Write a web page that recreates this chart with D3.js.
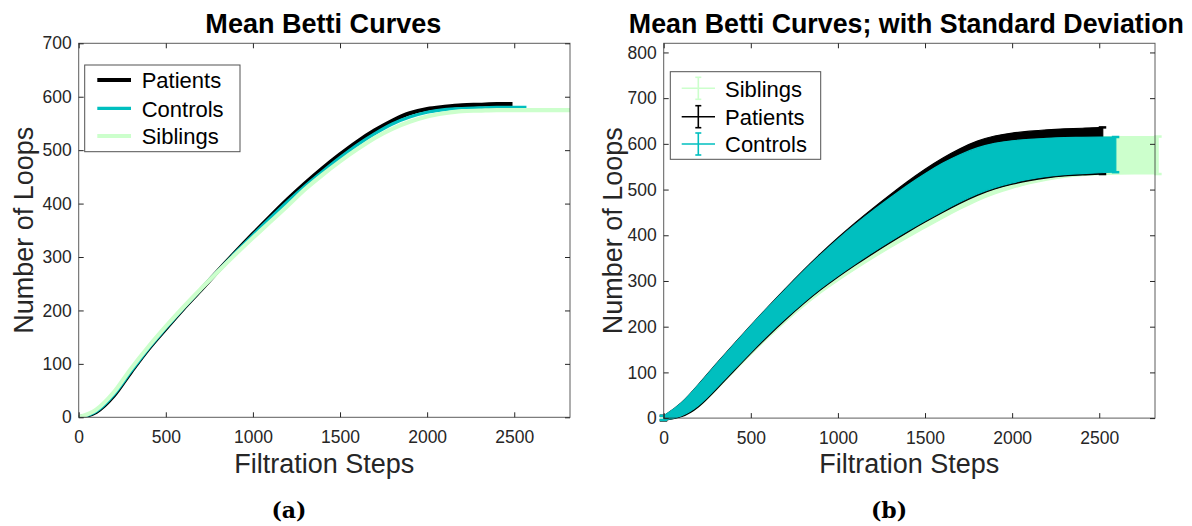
<!DOCTYPE html>
<html><head><meta charset="utf-8">
<script src="https://cdn.jsdelivr.net/npm/d3@7"></script>
<style>
html,body{margin:0;padding:0;background:#fff;}
svg{display:block;font-family:"Liberation Sans",Arial,Helvetica,sans-serif;}
</style></head>
<body>
<svg id="chart" width="1192" height="526"></svg>
<script>
// ---------- DATA ----------
// Panel (a): mean Betti curves
const stepsP = [0,100,200,300,400,500,600,700,800,900,1000,1100,1200,1300,1400,1500,1600,1700,1800,1900,2000,2100,2200,2300,2400,2490];
const meanP  = [0,10,40,85,128,166,203,238,274,309,343,376,408,438,466,492,516,537,555,569,577,581,584,585,586,586];
const stepsC = [0,100,200,300,400,500,600,700,800,900,1000,1100,1200,1300,1400,1500,1600,1700,1800,1900,2000,2100,2200,2300,2400,2500,2570];
const meanC  = [0,11,42,86,129,167,204,239,274,308,341,373,404,433,460,486,510,531,549,562,571,576,578,579,580,580,580];
const stepsS = [0,100,200,300,400,500,600,700,800,900,1000,1100,1200,1300,1400,1500,1600,1700,1800,1900,2000,2100,2200,2300,2400,2500,2600,2700,2838];
const meanS  = [0,14,46,91,132,170,206,240,273,305,336,366,396,427,454,479,502,523,540,553,563,569,573,574,575,575,575,575,575];

// Panel (b): mean +/- standard deviation bands (lower / upper edges)
const bandStepsP = [0,100,200,300,400,500,600,700,800,900,1000,1100,1200,1300,1400,1500,1600,1700,1800,1900,2000,2100,2200,2300,2400,2520];
const highP = [5,30,74,118,161,203,244,284,323,360,395,428,459,489,518,545,569,590,607,618,624,628,631,633,634,636];
const lowP  = [-5,0,22,62,102,142,180,216,250,281,309,335,360,384,407,429,450,470,488,502,512,520,526,530,532,534];
const bandStepsC = [0,100,200,300,400,500,600,700,800,900,1000,1100,1200,1300,1400,1500,1600,1700,1800,1900,2000,2100,2200,2300,2400,2500,2595];
const highC = [5,29,73,117,160,202,243,282,321,357,392,424,454,482,510,535,558,577,592,602,607,610,612,614,614,615,615];
const lowC  = [-4,2,25,65,105,145,183,219,253,284,312,338,363,387,410,432,453,473,491,505,515,523,529,533,535,537,538];
const bandStepsS = [0,100,200,300,400,500,600,700,800,900,1000,1100,1200,1300,1400,1500,1600,1700,1800,1900,2000,2100,2200,2300,2400,2500,2600,2700,2838];
const highS = [4,27,70,113,154,194,233,271,308,343,376,407,436,463,489,513,535,555,573,588,599,606,611,613,615,616,616,616,616];
const lowS  = [-4,1,21,61,100,139,176,211,244,274,301,326,350,373,395,416,437,457,476,491,503,513,521,527,531,533,534,534,534];

const xTicks = [0,500,1000,1500,2000,2500];
const yTicksA = [0,100,200,300,400,500,600,700];
const yTicksB = [0,100,200,300,400,500,600,700,800];
const groupColors = {Patients:"#000000", Controls:"#00BFBF", Siblings:"#CCFFCC"};

// ---------- DRAW ----------
const svg = d3.select("#chart");
const axisColor = "#262626";

function makePanel(left, right, top, bottom, xMax, yMax, id){
  const x = d3.scaleLinear().domain([0, xMax]).range([left, right]);
  const y = d3.scaleLinear().domain([0, yMax]).range([bottom, top]);
  const g = svg.append("g");
  g.append("clipPath").attr("id", id).append("rect")
    .attr("x", left).attr("y", top).attr("width", right-left).attr("height", bottom-top);
  return {x, y, g, left, right, top, bottom};
}

function drawAxes(p, yTicks, yLabelX, title, titleLen){
  const g = p.g.append("g");
  g.append("g").attr("transform", `translate(0,${p.bottom})`)
    .call(d3.axisBottom(p.x).tickValues(xTicks).tickSizeInner(-5).tickSizeOuter(0).tickPadding(13).tickFormat(d3.format("d")));
  g.append("g").attr("transform", `translate(0,${p.top})`)
    .call(d3.axisTop(p.x).tickValues(xTicks).tickSizeInner(-5).tickSizeOuter(0).tickFormat(""));
  g.append("g").attr("transform", `translate(${p.left},0)`)
    .call(d3.axisLeft(p.y).tickValues(yTicks).tickSizeInner(-5).tickSizeOuter(0).tickPadding(7).tickFormat(d3.format("d")));
  g.append("g").attr("transform", `translate(${p.right},0)`)
    .call(d3.axisRight(p.y).tickValues(yTicks).tickSizeInner(-5).tickSizeOuter(0).tickFormat(""));
  g.selectAll(".domain").remove();
  g.selectAll(".tick line").attr("stroke", axisColor).attr("stroke-width", 1);
  g.selectAll(".tick text").attr("fill", axisColor).style("font-size", "17.5px")
    .style("font-family", '"Liberation Sans",Arial,sans-serif');
  g.append("rect").attr("x", p.left).attr("y", p.top)
    .attr("width", p.right - p.left).attr("height", p.bottom - p.top)
    .attr("fill", "none").attr("stroke", axisColor).attr("stroke-width", 1).attr("stroke-opacity", 0.75);
  g.append("text").attr("x", (p.left + p.right)/2).attr("y", 472.5)
    .attr("text-anchor", "middle").attr("fill", axisColor).style("font-size", "27px").text("Filtration Steps");
  g.append("text").attr("transform", `translate(${yLabelX},${(p.top+p.bottom)/2}) rotate(-90)`)
    .attr("text-anchor", "middle").attr("fill", axisColor).style("font-size", "27px").text("Number of Loops");
  g.append("text").attr("x", (p.left + p.right)/2 + (title.length > 20 ? -3 : -1)).attr("y", 33)
    .attr("text-anchor", "middle").attr("fill", "#000").style("font-size", "27px").style("font-weight", "bold")
    .attr("textLength", titleLen).attr("lengthAdjust", "spacingAndGlyphs").text(title);
}

// ----- Panel (a)
const pa = makePanel(78.7, 570, 43.3, 417.3, 2820, 700, "clipA");
const lineGen = d3.line().x(d => pa.x(d[0])).y(d => pa.y(d[1])).curve(d3.curveMonotoneX);
const seriesA = [
  {name:"Patients", steps:stepsP, vals:meanP, w:4.2},
  {name:"Controls", steps:stepsC, vals:meanC, w:3.2},
  {name:"Siblings", steps:stepsS, vals:meanS, w:4.2}
];
const linesG = pa.g.append("g").attr("clip-path", "url(#clipA)");
seriesA.forEach(s => {
  linesG.append("path").datum(s.steps.map((st,i) => [st, s.vals[i]]))
    .attr("d", lineGen).attr("fill", "none").attr("stroke", groupColors[s.name])
    .attr("stroke-width", s.w).attr("stroke-linejoin", "round");
});
drawAxes(pa, yTicksA, 33.3, "Mean Betti Curves", 236);

const legA = pa.g.append("g");
legA.append("rect").attr("x", 84.7).attr("y", 65).attr("width", 155.3).attr("height", 86.7)
  .attr("fill", "#fff").attr("stroke", axisColor).attr("stroke-width", 1).attr("stroke-opacity", 0.8);
const legAy = [80, 108.3, 136];
seriesA.forEach((s, i) => {
  legA.append("line").attr("x1", 97.3).attr("x2", 131).attr("y1", legAy[i]).attr("y2", legAy[i])
    .attr("stroke", groupColors[s.name]).attr("stroke-width", s.w);
  legA.append("text").attr("x", 141.7).attr("y", legAy[i] + 8.2).style("font-size", "22px")
    .attr("fill", "#000").text(s.name);
});

// ----- Panel (b)
const pb = makePanel(663.7, 1155, 43.3, 418.1, 2820, 820, "clipB");
const areaGen = d3.area().x(d => pb.x(d[0])).y0(d => pb.y(d[1])).y1(d => pb.y(d[2])).curve(d3.curveBasis);
const bands = [
  {name:"Siblings", steps:bandStepsS, lo:lowS, hi:highS},
  {name:"Patients", steps:bandStepsP, lo:lowP, hi:highP},
  {name:"Controls", steps:bandStepsC, lo:lowC, hi:highC}
];
const bandG = pb.g.append("g");
bands.forEach(b => {
  const data = b.steps.map((st,i) => [st, b.lo[i], b.hi[i]]);
  bandG.append("path").datum(data).attr("d", areaGen)
    .attr("fill", groupColors[b.name]).attr("stroke", groupColors[b.name])
    .attr("stroke-width", 1.2).attr("stroke-linejoin", "round");
  [data[0], data[data.length-1]].forEach(pt => {
    const cx = pb.x(pt[0]);
    [pt[1], pt[2]].forEach(v => {
      bandG.append("line").attr("x1", cx - 4).attr("x2", cx + 3.5).attr("y1", pb.y(v)).attr("y2", pb.y(v))
        .attr("stroke", groupColors[b.name]).attr("stroke-width", 2.5);
    });
  });
});
drawAxes(pb, yTicksB, 621.7, "Mean Betti Curves; with Standard Deviation", 555);

const legB = pb.g.append("g");
legB.append("rect").attr("x", 670.3).attr("y", 71.7).attr("width", 150.4).attr("height", 87.6)
  .attr("fill", "#fff").attr("stroke", axisColor).attr("stroke-width", 1).attr("stroke-opacity", 0.8);
const legBy = [88.3, 116.7, 144];
bands.forEach((b, i) => {
  const cy = legBy[i], c = groupColors[b.name];
  legB.append("line").attr("x1", 681.7).attr("x2", 715).attr("y1", cy).attr("y2", cy).attr("stroke", c).attr("stroke-width", 1.6);
  legB.append("line").attr("x1", 698.3).attr("x2", 698.3).attr("y1", cy - 11).attr("y2", cy + 11).attr("stroke", c).attr("stroke-width", 1.6);
  [cy - 11, cy + 11].forEach(yy => legB.append("line").attr("x1", 695.3).attr("x2", 701.3).attr("y1", yy).attr("y2", yy).attr("stroke", c).attr("stroke-width", 1.6));
  legB.append("text").attr("x", 725).attr("y", cy + 8.2).style("font-size", "22px").attr("fill", "#000").text(b.name);
});

// captions
svg.append("text").attr("x", 289).attr("y", 518).attr("text-anchor", "middle")
  .style("font-family", '"DejaVu Serif",serif').style("font-weight", "bold").style("font-size", "22px").text("(a)");
svg.append("text").attr("x", 889).attr("y", 518).attr("text-anchor", "middle")
  .style("font-family", '"DejaVu Serif",serif').style("font-weight", "bold").style("font-size", "22px").text("(b)");
</script>
</body></html>
